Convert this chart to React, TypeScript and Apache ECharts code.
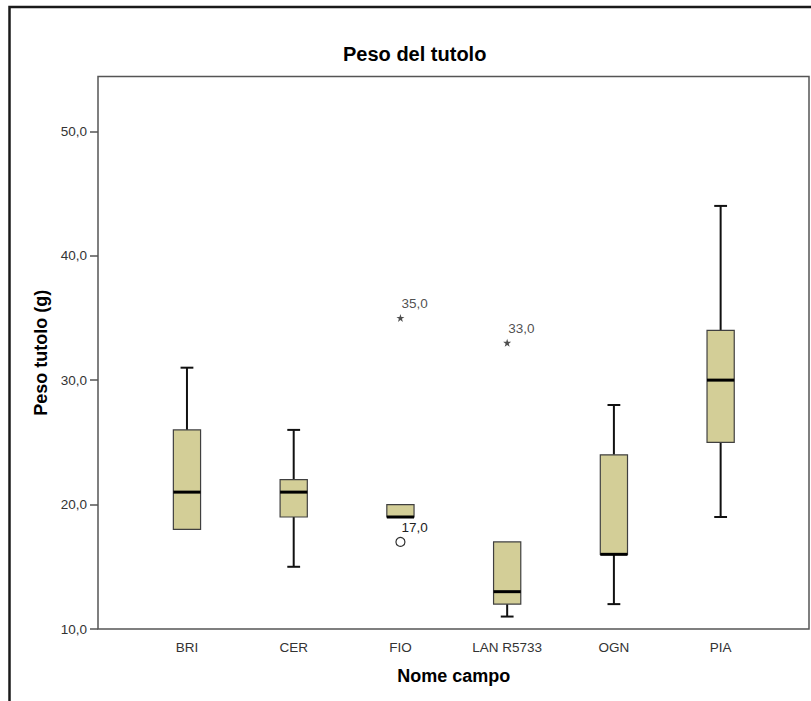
import React, { useEffect, useRef } from 'react';
import * as echarts from 'echarts';

const categories = ['BRI', 'CER', 'FIO', 'LAN R5733', 'OGN', 'PIA'];
const whiskerLow = [18, 15, 19, 11, 12, 19];
const quartile1 = [18, 19, 19, 12, 16, 25];
const medians = [21, 21, 19, 13, 16, 30];
const quartile3 = [26, 22, 20, 17, 24, 34];
const whiskerHigh = [31, 26, 20, 17, 28, 44];
const outlierPoints = [[2, 17]];
const extremePoints = [[2, 35], [3, 33]];
const yTicks = [10, 20, 30, 40, 50];
const yMin = 10;
const yMax = 54.4;

const FONT = '"Liberation Sans", Arial, sans-serif';
const fmt = (v: number) => v.toFixed(1).replace('.', ',');
const STAR =
  'path://M0,-1 L0.2245,-0.309 L0.951,-0.309 L0.363,0.118 L0.588,0.809 L0,0.382 L-0.588,0.809 L-0.363,0.118 L-0.951,-0.309 L-0.2245,-0.309 Z';

export default function App() {
  const ref = useRef<HTMLDivElement>(null);

  useEffect(() => {
    document.body.style.margin = '0';
    const chart = echarts.init(ref.current!, null, { renderer: 'svg' });
    const boxData = categories.map((c, i) => [
      i,
      whiskerLow[i],
      quartile1[i],
      medians[i],
      quartile3[i],
      whiskerHigh[i],
    ]);

    const pointLabel = {
      show: true,
      position: 'inside',
      offset: [1, -14],
      align: 'left',
      verticalAlign: 'middle',
      formatter: (p: any) => fmt(p.value[1]),
      fontSize: 13.5,
      color: '#222',
      fontFamily: FONT,
    };

    const option: any = {
      animation: false,
      backgroundColor: '#ffffff',
      graphic: [
        {
          type: 'rect',
          shape: { x: 9.5, y: 7, width: 900, height: 900 },
          style: { fill: 'none', stroke: '#1a1a1a', lineWidth: 2.5 },
          silent: true,
          z: 100,
        },
        {
          type: 'text',
          x: 414.7,
          y: 54,
          style: {
            text: 'Peso del tutolo',
            fontSize: 20,
            fontWeight: 'bold',
            fontFamily: FONT,
            fill: '#000',
            textAlign: 'center',
            textVerticalAlign: 'middle',
          },
        },
      ],
      grid: [
        {
          left: 98,
          top: 76.5,
          width: 711,
          height: 552.5,
          show: true,
          borderColor: '#555',
          borderWidth: 1.5,
          backgroundColor: 'transparent',
        },
        { left: 133.6, top: 76.5, width: 640.4, height: 552.5 },
      ],
      xAxis: [
        { type: 'value', gridIndex: 0, min: 0, max: 1, show: false },
        {
          type: 'category',
          gridIndex: 1,
          data: categories,
          boundaryGap: true,
          axisLine: { show: false, onZero: false },
          axisTick: {
            alignWithLabel: true,
            length: 8,
            lineStyle: { color: '#555', width: 1.5 },
          },
          axisLabel: {
            margin: 11,
            fontSize: 13.5,
            color: '#333',
            fontFamily: FONT,
            interval: 0,
          },
          splitLine: { show: false },
          name: 'Nome campo',
          nameLocation: 'middle',
          nameGap: 38,
          nameTextStyle: {
            fontSize: 18,
            fontWeight: 'bold',
            color: '#000',
            fontFamily: FONT,
          },
        },
      ],
      yAxis: [
        {
          type: 'value',
          gridIndex: 0,
          min: yMin,
          max: yMax,
          interval: 10,
          splitLine: { show: false },
          axisLine: { show: false },
          axisTick: {
            show: true,
            length: 8,
            customValues: yTicks,
            lineStyle: { color: '#555', width: 1.5 },
          },
          axisLabel: {
            customValues: yTicks,
            formatter: (v: number) => fmt(v),
            margin: 11,
            fontSize: 13.5,
            color: '#333',
            fontFamily: FONT,
          },
          name: 'Peso tutolo (g)',
          nameLocation: 'middle',
          nameRotate: 90,
          nameGap: 48,
          nameTextStyle: {
            fontSize: 18,
            fontWeight: 'bold',
            color: '#000',
            fontFamily: FONT,
          },
        },
        { type: 'value', gridIndex: 1, min: yMin, max: yMax, show: false },
      ],
      series: [
        {
          type: 'custom',
          xAxisIndex: 1,
          yAxisIndex: 1,
          data: boxData,
          encode: { x: 0, y: [1, 2, 3, 4, 5] },
          renderItem: (params: any, api: any) => {
            const i = api.value(0);
            const lo = api.value(1);
            const q1v = api.value(2);
            const med = api.value(3);
            const q3v = api.value(4);
            const hi = api.value(5);
            const band = api.size([1, 0])[0];
            const boxW = band * 0.255;
            const capW = band * 0.12;
            const pLo = api.coord([i, lo]);
            const pQ1 = api.coord([i, q1v]);
            const pMed = api.coord([i, med]);
            const pQ3 = api.coord([i, q3v]);
            const pHi = api.coord([i, hi]);
            const x = pLo[0];
            const wStyle = { stroke: '#111', lineWidth: 2 };
            const children: any[] = [];
            if (hi > q3v) {
              children.push({
                type: 'line',
                shape: { x1: x, y1: pQ3[1], x2: x, y2: pHi[1] },
                style: wStyle,
              });
              children.push({
                type: 'line',
                shape: { x1: x - capW / 2, y1: pHi[1], x2: x + capW / 2, y2: pHi[1] },
                style: wStyle,
              });
            }
            if (lo < q1v) {
              children.push({
                type: 'line',
                shape: { x1: x, y1: pQ1[1], x2: x, y2: pLo[1] },
                style: wStyle,
              });
              children.push({
                type: 'line',
                shape: { x1: x - capW / 2, y1: pLo[1], x2: x + capW / 2, y2: pLo[1] },
                style: wStyle,
              });
            }
            children.push({
              type: 'rect',
              shape: { x: x - boxW / 2, y: pQ3[1], width: boxW, height: pQ1[1] - pQ3[1] },
              style: { fill: '#d3ce97', stroke: '#404040', lineWidth: 1.2 },
            });
            children.push({
              type: 'line',
              shape: { x1: x - boxW / 2, y1: pMed[1], x2: x + boxW / 2, y2: pMed[1] },
              style: { stroke: '#000', lineWidth: 3 },
            });
            return { type: 'group', children };
          },
        },
        {
          type: 'scatter',
          xAxisIndex: 1,
          yAxisIndex: 1,
          data: outlierPoints,
          symbol: 'circle',
          symbolSize: 9,
          itemStyle: { color: '#ffffff', borderColor: '#333333', borderWidth: 1.2, opacity: 1 },
          label: pointLabel,
          z: 5,
        },
        {
          type: 'scatter',
          xAxisIndex: 1,
          yAxisIndex: 1,
          data: extremePoints,
          symbol: STAR,
          symbolSize: 8,
          itemStyle: { color: '#222' },
          label: pointLabel,
          z: 5,
        },
      ],
    };

    chart.setOption(option);
    return () => chart.dispose();
  }, []);

  return <div ref={ref} style={{ width: 811, height: 701 }} />;
}
